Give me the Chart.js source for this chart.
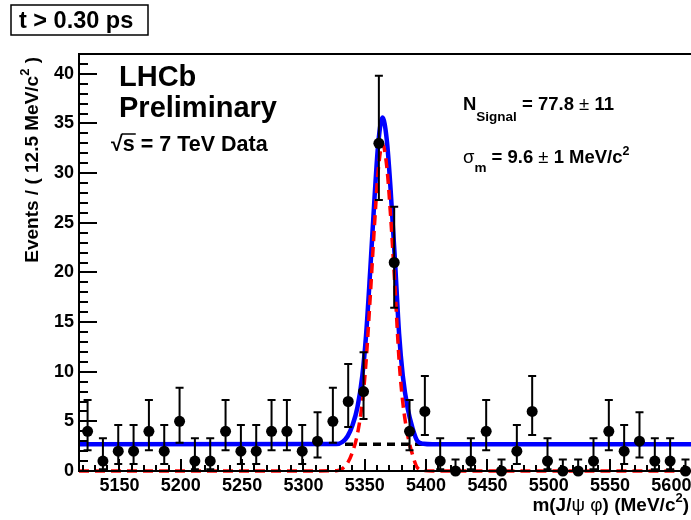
<!DOCTYPE html>
<html><head><meta charset="utf-8">
<script src="https://cdn.jsdelivr.net/npm/chart.js@4.4.0/dist/chart.umd.min.js"></script>
<style>html,body{margin:0;padding:0;background:#fff;}canvas{display:block;}</style>
</head><body>
<canvas id="c" width="691" height="520"></canvas>
<script>
// ---- data ----
const binCenters = [5124, 5136.5, 5149, 5161.5, 5174, 5186.5, 5199, 5211.5, 5224, 5236.5,
  5249, 5261.5, 5274, 5286.5, 5299, 5311.5, 5324, 5336.5, 5349, 5361.5,
  5374, 5386.5, 5399, 5411.5, 5424, 5436.5, 5449, 5461.5, 5474, 5486.5,
  5499, 5511.5, 5524, 5536.5, 5549, 5561.5, 5574, 5586.5, 5599, 5611.5];
const counts = [4, 1, 2, 2, 4, 2, 5, 1, 1, 4,
  2, 2, 4, 4, 2, 3, 5, 7, 8, 33,
  21, 4, 6, 1, 0, 1, 4, 0, 2, 6,
  1, 0, 0, 1, 4, 2, 3, 1, 1, 0];
const errLow = [2.09, 0.17, 0.71, 0.71, 2.09, 0.71, 2.84, 0.17, 0.17, 2.09,
  0.71, 0.71, 2.09, 2.09, 0.71, 1.37, 2.84, 4.42, 5.23, 27.3,
  16.45, 2.09, 3.62, 0.17, 0, 0.17, 2.09, 0, 0.71, 3.62,
  0.17, 0, 0, 0.17, 2.09, 0.71, 1.37, 0.17, 0.17, 0];
const errHigh = [7.16, 3.30, 4.64, 4.64, 7.16, 4.64, 8.38, 3.30, 3.30, 7.16,
  4.64, 4.64, 7.16, 7.16, 4.64, 5.92, 8.38, 10.77, 11.95, 39.8,
  26.62, 7.16, 9.58, 3.30, 1.15, 3.30, 7.16, 1.15, 4.64, 9.58,
  3.30, 1.15, 1.15, 3.30, 7.16, 4.64, 5.92, 3.30, 3.30, 1.15];
// total fit (blue)
const fitMass = [5117, 5327, 5332, 5336, 5340, 5344, 5348, 5351, 5354.5, 5358, 5361,
  5364.5, 5368, 5371, 5374.5, 5378, 5381, 5385, 5389, 5393, 5398, 5405, 5616];
const fitTotal = [2.69, 2.72, 2.95, 3.5, 4.6, 6.4, 9.6, 13.6, 20.3, 27.6, 33.0,
  35.6, 33.3, 28.5, 21.5, 13.8, 9.6, 6.3, 4.3, 3.0, 2.74, 2.69, 2.69];
// signal component (red dashed)
const sigMass = [5117, 5300, 5327, 5332, 5336, 5340, 5344, 5348, 5351, 5354.5, 5358, 5361,
  5364.5, 5368, 5371, 5374.5, 5378, 5381, 5385, 5389, 5393, 5398, 5405, 5616];
const sigValues = [0, 0, 0.03, 0.26, 0.81, 1.91, 3.71, 6.91, 10.91, 17.61, 24.91, 30.31,
  32.91, 30.61, 25.81, 18.81, 11.11, 6.91, 3.61, 1.61, 0.31, 0.05, 0, 0];
// background component (black dashed)
const bkgMass = [5117, 5616];
const bkgValues = [2.69, 2.69];
// axis ticks
const xTickValues = [5150, 5200, 5250, 5300, 5350, 5400, 5450, 5500, 5550, 5600];
const yTickValues = [0, 5, 10, 15, 20, 25, 30, 35, 40];

const F = "'Liberation Sans', Arial, Helvetica, sans-serif";
const zip = (xs, ys) => xs.map((x, i) => ({x: x, y: ys[i]}));
const noPad = () => ({left: 0, top: 0, right: 0, bottom: 0});

function drawRuns(ctx, x, y, runs, align) {
  let total = 0;
  const ws = runs.map(r => { ctx.font = r.f; const w = ctx.measureText(r.t).width; total += w; return w; });
  if (align === 'right') x -= total;
  runs.forEach((r, i) => { ctx.font = r.f; ctx.fillText(r.t, x, y + (r.dy || 0)); x += ws[i]; });
  return total;
}

const framePlugin = {
  id: 'frame',
  afterDatasetsDraw(chart) {
    const ctx = chart.ctx, xs = chart.scales.x, ys = chart.scales.y;
    ctx.save();
    ctx.strokeStyle = '#000'; ctx.lineWidth = 2;
    binCenters.forEach((m, i) => {
      const px = xs.getPixelForValue(m);
      const lo = ys.getPixelForValue(errLow[i]), hi = ys.getPixelForValue(errHigh[i]);
      ctx.beginPath();
      ctx.moveTo(px, lo); ctx.lineTo(px, hi);
      ctx.moveTo(px - 4, hi); ctx.lineTo(px + 4, hi);
      ctx.moveTo(px - 4, lo); ctx.lineTo(px + 4, lo);
      ctx.stroke();
    });
    ctx.restore();
  },
  afterDraw(chart) {
    const ctx = chart.ctx, xs = chart.scales.x, ys = chart.scales.y, a = chart.chartArea;
    ctx.save();
    ctx.strokeStyle = '#000'; ctx.fillStyle = '#000';
    ctx.lineWidth = 2;
    ctx.beginPath();
    ctx.moveTo(a.right + 5, a.top); ctx.lineTo(a.left, a.top); ctx.lineTo(a.left, a.bottom); ctx.lineTo(a.right + 5, a.bottom);
    ctx.stroke();
    ctx.beginPath();
    for (let v = 0; v <= 42; v += 1) {
      const py = Math.round(ys.getPixelForValue(v));
      const len = (v % 5 === 0) ? 18 : 9;
      ctx.moveTo(a.left, py); ctx.lineTo(a.left + len, py);
    }
    for (let v = 5120; v <= 5610; v += 10) {
      const px = Math.round(xs.getPixelForValue(v));
      const len = (v % 50 === 0) ? 12 : 6;
      ctx.moveTo(px, a.bottom); ctx.lineTo(px, a.bottom - len);
    }
    ctx.stroke();

    ctx.textBaseline = 'alphabetic'; ctx.textAlign = 'left';
    ctx.lineWidth = 1.5;
    ctx.strokeRect(11, 5, 137, 30);
    ctx.font = 'bold 23.5px ' + F;
    ctx.fillText('t > 0.30 ps', 19, 28);
    ctx.font = 'bold 29px ' + F;
    ctx.fillText('LHCb', 119, 86);
    ctx.fillText('Preliminary', 119, 117);
    ctx.font = 'bold 21.5px ' + F;
    ctx.fillText('\u221A', 111, 151);
    const sx = 111 + ctx.measureText('\u221A').width;
    const sw = ctx.measureText('s').width;
    ctx.fillText('s = 7 TeV Data', sx, 151);
    ctx.lineWidth = 1.5;
    ctx.beginPath(); ctx.moveTo(sx - 1, 134); ctx.lineTo(sx + sw + 1, 134); ctx.stroke();
    drawRuns(ctx, 463, 110, [
      {t: 'N', f: 'bold 18.5px ' + F},
      {t: 'Signal', f: 'bold 13.5px ' + F, dy: 11},
      {t: ' = 77.8 ', f: 'bold 18.5px ' + F},
      {t: '\u00B1', f: '18.5px ' + F},
      {t: ' 11', f: 'bold 18.5px ' + F}
    ]);
    drawRuns(ctx, 463, 163, [
      {t: '\u03C3', f: '18.5px ' + F},
      {t: 'm', f: 'bold 13.5px ' + F, dy: 9},
      {t: ' = 9.6 ', f: 'bold 18.5px ' + F},
      {t: '\u00B1', f: '18.5px ' + F},
      {t: ' 1 MeV/c', f: 'bold 18.5px ' + F},
      {t: '2', f: 'bold 12.5px ' + F, dy: -8}
    ]);
    drawRuns(ctx, 689, 511, [
      {t: 'm(J/', f: 'bold 19px ' + F},
      {t: '\u03C8 \u03C6', f: '19px ' + F},
      {t: ') (MeV/c', f: 'bold 19px ' + F},
      {t: '2', f: 'bold 13px ' + F, dy: -9},
      {t: ')', f: 'bold 19px ' + F}
    ], 'right');
    ctx.translate(38, 57);
    ctx.rotate(-Math.PI / 2);
    drawRuns(ctx, 0, 0, [
      {t: 'Events / ( 12.5 MeV/c', f: 'bold 19px ' + F},
      {t: '2', f: 'bold 13px ' + F, dy: -9},
      {t: ' )', f: 'bold 19px ' + F}
    ], 'right');
    ctx.restore();
  }
};

new Chart(document.getElementById('c'), {
  type: 'scatter',
  data: {
    datasets: [
      {type: 'scatter', data: zip(binCenters, counts), pointRadius: 5.5, pointHoverRadius: 5.5,
       backgroundColor: '#000', borderWidth: 0, order: 0, clip: false},
      {type: 'line', data: zip(sigMass, sigValues), borderColor: '#ff0000', borderWidth: 3.5,
       borderDash: [10, 6], pointRadius: 0, cubicInterpolationMode: 'monotone', fill: false, order: 1, clip: false},
      {type: 'line', data: zip(fitMass, fitTotal), borderColor: '#0000ff', borderWidth: 4.5,
       pointRadius: 0, cubicInterpolationMode: 'monotone', fill: false, order: 2},
      {type: 'line', data: zip(bkgMass, bkgValues), borderColor: '#000', borderWidth: 3.5,
       borderDash: [8, 6], pointRadius: 0, fill: false, order: 3}
    ]
  },
  options: {
    responsive: false, animation: false, devicePixelRatio: 1, events: [],
    layout: {autoPadding: false, padding: {top: 54, left: 0, right: 0, bottom: 0}},
    plugins: {legend: {display: false}, tooltip: {enabled: false}},
    scales: {
      x: {
        type: 'linear', min: 5117, max: 5616,
        grid: {display: false, drawTicks: false}, border: {display: false},
        afterBuildTicks: s => { s.ticks = xTickValues.map(v => ({value: v})); },
        afterFit: s => { s.height = 49; s.paddingLeft = 0; s.paddingRight = 0; s.getPadding = noPad; },
        ticks: {color: '#000', font: {family: F, size: 18, weight: 'bold'}, padding: 4,
                maxRotation: 0, autoSkip: false, callback: v => String(v)}
      },
      y: {
        type: 'linear', min: 0, max: 42,
        grid: {display: false, drawTicks: false}, border: {display: false},
        afterBuildTicks: s => { s.ticks = yTickValues.map(v => ({value: v})); },
        afterFit: s => { s.width = 79; s.paddingTop = 0; s.paddingBottom = 0; s.getPadding = noPad; },
        ticks: {color: '#000', font: {family: F, size: 18, weight: 'bold'}, padding: 5,
                autoSkip: false, callback: v => String(v)}
      }
    }
  },
  plugins: [framePlugin]
});
</script>
</body></html>
